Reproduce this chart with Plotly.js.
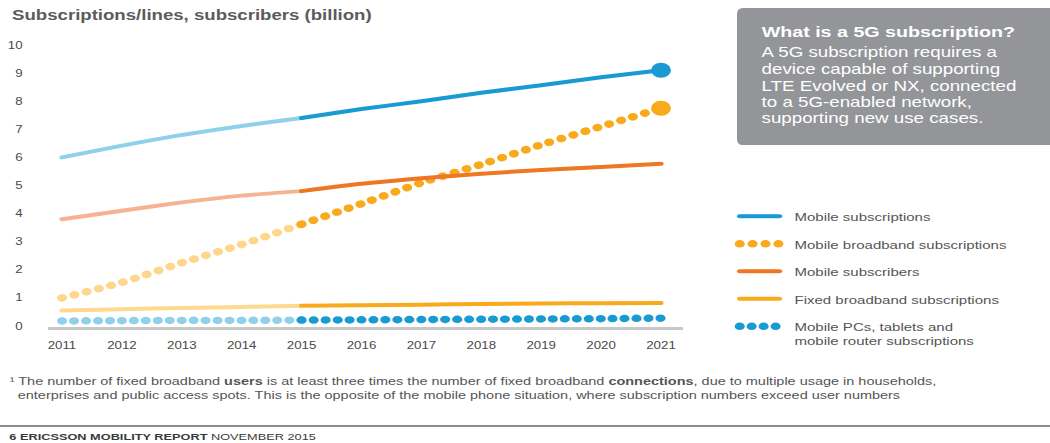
<!DOCTYPE html>
<html>
<head>
<meta charset="utf-8">
<script src="https://cdn.plot.ly/plotly-3.0.1.min.js"></script>
<style>
  html, body { margin: 0; padding: 0; overflow: hidden; background: #fff; }
  #chart { width: 790px; height: 443px; transform: scaleX(1.32911); transform-origin: 0 0; }
  .js-line { stroke-linecap: round !important; }
</style>
</head>
<body>
<div id="chart"></div>
<script>
// ---------------- data ----------------
const years = [2011, 2012, 2013, 2014, 2015, 2016, 2017, 2018, 2019, 2020, 2021];
const mobileSubscriptions = [6.0, 6.42, 6.8, 7.12, 7.4, 7.72, 8.0, 8.3, 8.57, 8.85, 9.1];
const mobileBroadband = [1.0, 1.55, 2.25, 2.9, 3.62, 4.35, 5.1, 5.75, 6.45, 7.1, 7.75];
const mobileSubscribers = [3.8, 4.1, 4.4, 4.64, 4.8, 5.06, 5.26, 5.42, 5.55, 5.66, 5.77];
const fixedBroadband = [0.55, 0.6, 0.64, 0.68, 0.72, 0.74, 0.76, 0.78, 0.8, 0.81, 0.82];
const mobilePCs = [0.18, 0.19, 0.2, 0.2, 0.21, 0.22, 0.23, 0.24, 0.25, 0.26, 0.28];
const seriesNames = [
  'Mobile subscriptions',
  'Mobile broadband subscriptions',
  'Mobile subscribers',
  'Fixed broadband subscriptions',
  'Mobile PCs, tablets and<br>mobile router subscriptions'
];
const yTicks = [0, 1, 2, 3, 4, 5, 6, 7, 8, 9, 10];
const historyEndIndex = 4; // 2015: history/forecast split

const chartTitle = 'Subscriptions/lines, subscribers (billion)';
const boxTitle = 'What is a 5G subscription?';
const boxLines = [
  'A 5G subscription requires a',
  'device capable of supporting',
  'LTE Evolved or NX, connected',
  'to a 5G-enabled network,',
  'supporting new use cases.'
];
const footnoteLines = [
  '¹ The number of fixed broadband <b>users</b> is at least three times the number of fixed broadband <b>connections</b>, due to multiple usage in households,',
  '  enterprises and public access spots. This is the opposite of the mobile phone situation, where subscription numbers exceed user numbers'
];

// ---------------- styles ----------------
const styles = [
  {values: mobileSubscriptions, light: '#8fd0ea', dark: '#1a9ad2', width: 4, dash: 'solid', end: true},
  {values: mobileBroadband, light: '#fed68c', dark: '#f9aa1c', width: 7.5, dash: '0.1px,9.6px', end: true},
  {values: mobileSubscribers, light: '#f6b391', dark: '#ef7622', width: 4, dash: 'solid', end: false},
  {values: fixedBroadband, light: '#fdd88f', dark: '#f9aa1c', width: 4, dash: 'solid', end: false},
  {values: mobilePCs, light: '#8fd0ea', dark: '#1a9ad2', width: 7.5, dash: '0.1px,8.9px', end: false}
];

// ---------------- geometry helpers (reference pixels -> paper) ----------------
const S = 1050 / 790;
const W = 790, H = 443;
const L = 36, T = 40, PR = 514, PB = 327;
const PW = PR - L, PH = PB - T;
const px = (xr) => (xr / S - L) / PW;
const py = (yr) => (PB - yr) / PH;

const NB = '\u00a0\u00a0';

const traces = [];
styles.forEach((st, i) => {
  const hx = years.slice(0, historyEndIndex + 1);
  const hy = st.values.slice(0, historyEndIndex + 1);
  const fx = years.slice(historyEndIndex);
  const fy = st.values.slice(historyEndIndex);
  traces.push({
    x: hx, y: hy, type: 'scatter', mode: 'lines', showlegend: false,
    legendgroup: 'g' + i, hoverinfo: 'skip',
    line: {color: st.light, width: st.width, dash: st.dash, shape: 'spline', smoothing: 0.5}
  });
  traces.push({
    x: fx, y: fy, type: 'scatter', mode: 'lines', showlegend: true,
    legendgroup: 'g' + i,
    name: NB + seriesNames[i].split('<br>').join('<br>' + NB),
    line: {color: st.dark, width: st.width, dash: st.dash, shape: 'spline', smoothing: 0.5}
  });
  if (st.end) {
    traces.push({
      x: [years[years.length - 1]], y: [st.values[st.values.length - 1]],
      type: 'scatter', mode: 'markers', showlegend: false, legendgroup: 'g' + i,
      cliponaxis: false,
      marker: {color: st.dark, size: 15}
    });
  }
});

// ---------------- callout box path ----------------
function roundRect(x0, y0, x1, y1, r) {
  const rx = r / S / PW, ry = r / PH;
  const X0 = px(x0), X1 = px(x1), Y0 = py(y0), Y1 = py(y1);
  return 'M' + (X0 + rx) + ',' + Y0 +
    ' L' + (X1 - rx) + ',' + Y0 + ' Q' + X1 + ',' + Y0 + ' ' + X1 + ',' + (Y0 - ry) +
    ' L' + X1 + ',' + (Y1 + ry) + ' Q' + X1 + ',' + Y1 + ' ' + (X1 - rx) + ',' + Y1 +
    ' L' + (X0 + rx) + ',' + Y1 + ' Q' + X0 + ',' + Y1 + ' ' + X0 + ',' + (Y1 + ry) +
    ' L' + X0 + ',' + (Y0 - ry) + ' Q' + X0 + ',' + Y0 + ' ' + (X0 + rx) + ',' + Y0 + ' Z';
}

const annotations = [];
annotations.push({
  text: '<b>' + chartTitle + '</b>', xref: 'paper', yref: 'paper',
  x: px(9), y: py(15), xanchor: 'left', yanchor: 'middle', showarrow: false,
  font: {size: 14, color: '#5b5b5b'}
});
annotations.push({
  text: '<b>' + boxTitle + '</b>', xref: 'paper', yref: 'paper',
  x: px(759), y: py(32), xanchor: 'left', yanchor: 'middle', showarrow: false,
  font: {size: 14.8, color: '#ffffff'}
});
const boxLineY = [52, 69, 85.5, 102, 118];
boxLines.forEach((t, i) => {
  annotations.push({
    text: t, xref: 'paper', yref: 'paper',
    x: px(759), y: py(boxLineY[i]), xanchor: 'left', yanchor: 'middle', showarrow: false,
    font: {size: 14.1, color: '#ffffff'}
  });
});
const footY = [381, 394.5];
footnoteLines.forEach((t, i) => {
  annotations.push({
    text: t, xref: 'paper', yref: 'paper',
    x: px(7), y: py(footY[i]), xanchor: 'left', yanchor: 'middle', showarrow: false,
    font: {size: 10.9, color: '#555555'}
  });
});
annotations.push({
  text: '<b>6 ERICSSON MOBILITY REPORT</b> NOVEMBER 2015', xref: 'paper', yref: 'paper',
  x: px(6), y: py(436), xanchor: 'left', yanchor: 'middle', showarrow: false,
  font: {size: 9.6, color: '#3a3a3a'}
});

const layout = {
  width: W, height: H,
  margin: {l: L, r: W - PR, t: T, b: H - PB, pad: 0},
  paper_bgcolor: '#ffffff', plot_bgcolor: '#ffffff',
  font: {family: 'Liberation Sans, Arial, sans-serif', color: '#555555'},
  showlegend: true,
  legend: {
    x: px(733), y: py(202.5), xanchor: 'left', yanchor: 'top',
    font: {size: 11.3, color: '#555555'},
    traceorder: 'grouped', tracegroupgap: 8.5, valign: 'top',
    bgcolor: 'rgba(0,0,0,0)', borderwidth: 0
  },
  xaxis: {
    range: [2010.764, 2021.37], tickvals: years, ticktext: years.map(String),
    showgrid: false, zeroline: false, showline: true, linecolor: '#c8c8c8', linewidth: 3,
    ticks: 'outside', ticklen: 7, tickcolor: 'rgba(0,0,0,0)',
    tickfont: {size: 10, color: '#4a4a4a'}, fixedrange: true
  },
  yaxis: {
    range: [(326 - PB) / 28.1, (326 - T) / 28.1], tickvals: yTicks, ticktext: yTicks.map(String),
    showgrid: false, zeroline: false, showline: false,
    ticks: 'outside', ticklen: 16, tickcolor: 'rgba(0,0,0,0)',
    tickfont: {size: 10, color: '#4a4a4a'}, fixedrange: true
  },
  shapes: [
    {type: 'path', xref: 'paper', yref: 'paper', path: roundRect(737, 8, 1070, 145, 6),
     fillcolor: '#949598', line: {width: 0}, layer: 'below'},
    {type: 'line', xref: 'paper', yref: 'paper', x0: px(0), x1: px(1050), y0: py(426), y1: py(426),
     line: {color: '#8c8c8c', width: 2}}
  ],
  annotations: annotations
};

Plotly.newPlot('chart', traces, layout, {staticPlot: true, displayModeBar: false});
</script>
</body>
</html>
